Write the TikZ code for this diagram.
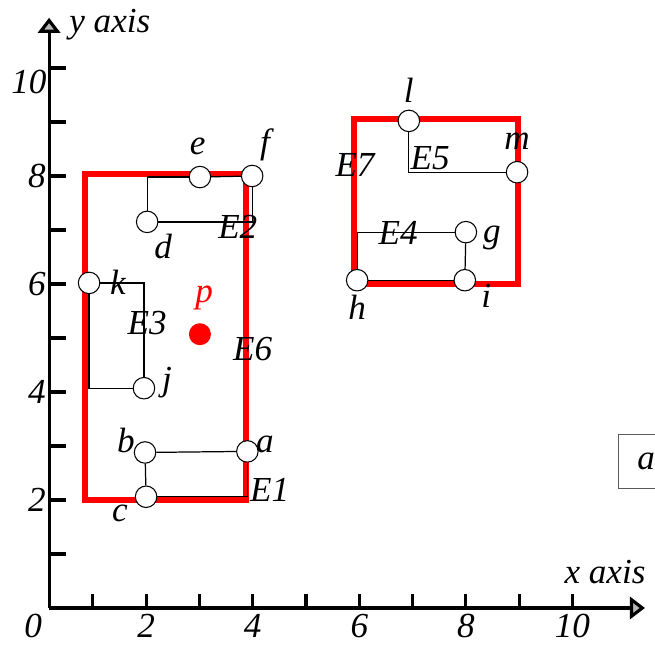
\documentclass[tikz,border=0pt]{standalone}
\usepackage{fontspec}
\setmainfont{Liberation Serif}
\usetikzlibrary{arrows.meta}
\definecolor{boundred}{RGB}{255,0,0}
\definecolor{tipgray}{RGB}{185,185,185}
\definecolor{boxgray}{RGB}{90,90,90}

\begin{document}
\begin{tikzpicture}[x=1.066cm, y=1.08cm,
    font=\fontsize{20}{24}\selectfont\itshape,
    axis/.style={line width=1.8pt, -{Triangle[length=3mm, width=4.4mm, fill=tipgray]}},
    tick/.style={line width=1.8pt},
    bound/.style={boundred, line width=3.2pt},
    edge/.style={line width=0.7pt},
    pt/.style={circle, draw, fill=white, inner sep=0pt, minimum size=0.43cm, line width=0.6pt},
    lbl/.style={inner sep=0pt}]
  \useasboundingbox (-0.741,-0.704) rectangle (11.548,11.259);

  % axes
  \coordinate (O) at (0.18,0);
  \coordinate (xend) at (11.36,0);
  \coordinate (yend) at (0.18,10.93);
  \draw[axis] (O) -- (xend);
  \draw[axis] (O) -- (yend);
  \foreach \x in {1,...,10}
    \draw[tick] (\x,0) -- ++(0,0.26);
  \foreach \y in {1,...,10}
    \draw[tick] (0.18,\y) -- ++(0.32,0);
  \node[lbl] (x0) at (-0.12,-0.34) {0};
  \foreach \x in {2,4,6,8}
    \node[lbl] (x\x) at (\x,-0.34) {\x};
  \node[lbl] (x10) at (10,-0.34) {10};
  \foreach \y in {2,4,6,8}
    \node[lbl] (y\y) at (-0.05,\y) {\y};
  \node[lbl] (y10) at (-0.2,9.74) {10};
  \node[lbl] (xlab) at (10.61,0.67) {x axis};
  \node[lbl] (ylab) at (1.32,10.8) {y axis};

  % bounding rectangles
  \draw[bound] (0.85,2.0) rectangle (3.87,8.04);
  \draw[bound] (5.9,6.0) rectangle (8.98,9.06);

  % points
  \node[pt] (a) at (3.9,2.9) {};
  \node[pt] (b) at (1.98,2.88) {};
  \node[pt] (c) at (2.0,2.06) {};
  \node[pt] (d) at (2.02,7.15) {};
  \node[pt] (e) at (3.01,7.98) {};
  \node[pt] (f) at (3.99,8.0) {};
  \node[pt] (k) at (0.93,6.02) {};
  \node[pt] (j) at (1.96,4.07) {};
  \node[pt] (l) at (6.93,9.02) {};
  \node[pt] (m) at (8.96,8.07) {};
  \node[pt] (g) at (8.0,6.96) {};
  \node[pt] (h) at (5.96,6.07) {};
  \node[pt] (i) at (7.98,6.07) {};
  \node[circle, fill=boundred, inner sep=0pt, minimum size=0.44cm] (p) at (3.01,5.07) {};
  \coordinate (e2c) at (2.02,7.98);

  % edges
  \draw[edge] (b) -- (a);
  \draw[edge] (a) |- (c);
  \draw[edge] (b) -- (c);
  \draw[edge] (d) -- (e2c) -- (e);
  \draw[edge] (e) -- (f);
  \draw[edge] (d) -| (f);
  \draw[edge] (k) -| (j);
  \draw[edge] (k) |- (j);
  \draw[edge] (h) |- (g);
  \draw[edge] (g) -- (i);
  \draw[edge] (i) -- (h);
  \draw[edge] (l) |- (m);

  % point labels
  \node[lbl] (la) at (4.23,3.02) {a};
  \node[lbl] (lb) at (1.62,3.11) {b};
  \node[lbl] (lc) at (1.51,1.76) {c};
  \node[lbl] (ld) at (2.32,6.7) {d};
  \node[lbl] (le) at (2.97,8.54) {e};
  \node[lbl] (lf) at (4.23,8.57) {f};
  \node[lbl] (lk) at (1.47,6.04) {k};
  \node[lbl] (lj) at (2.39,4.17) {j};
  \node[lbl] (ll) at (6.93,9.59) {l};
  \node[lbl] (lm) at (8.96,8.65) {m};
  \node[lbl] (lg) at (8.49,6.85) {g};
  \node[lbl] (lh) at (5.96,5.56) {h};
  \node[lbl] (li) at (8.38,5.78) {i};
  \node[lbl, text=boundred] (lp) at (3.09,5.74) {p};

  % edge labels
  \node[lbl] (E1) at (4.32,2.19) {E1};
  \node[lbl] (E2) at (3.72,7.06) {E2};
  \node[lbl] (E3) at (2.02,5.28) {E3};
  \node[lbl] (E4) at (6.73,6.94) {E4};
  \node[lbl] (E5) at (7.33,8.33) {E5};
  \node[lbl] (E6) at (4.0,4.8) {E6};
  \node[lbl] (E7) at (5.92,8.2) {E7};

  % legend box
  \node[draw=boxgray, line width=0.6pt, minimum width=1.1cm, minimum height=1.08cm] (box) at (11.38,2.72) {a};
\end{tikzpicture}
\end{document}
